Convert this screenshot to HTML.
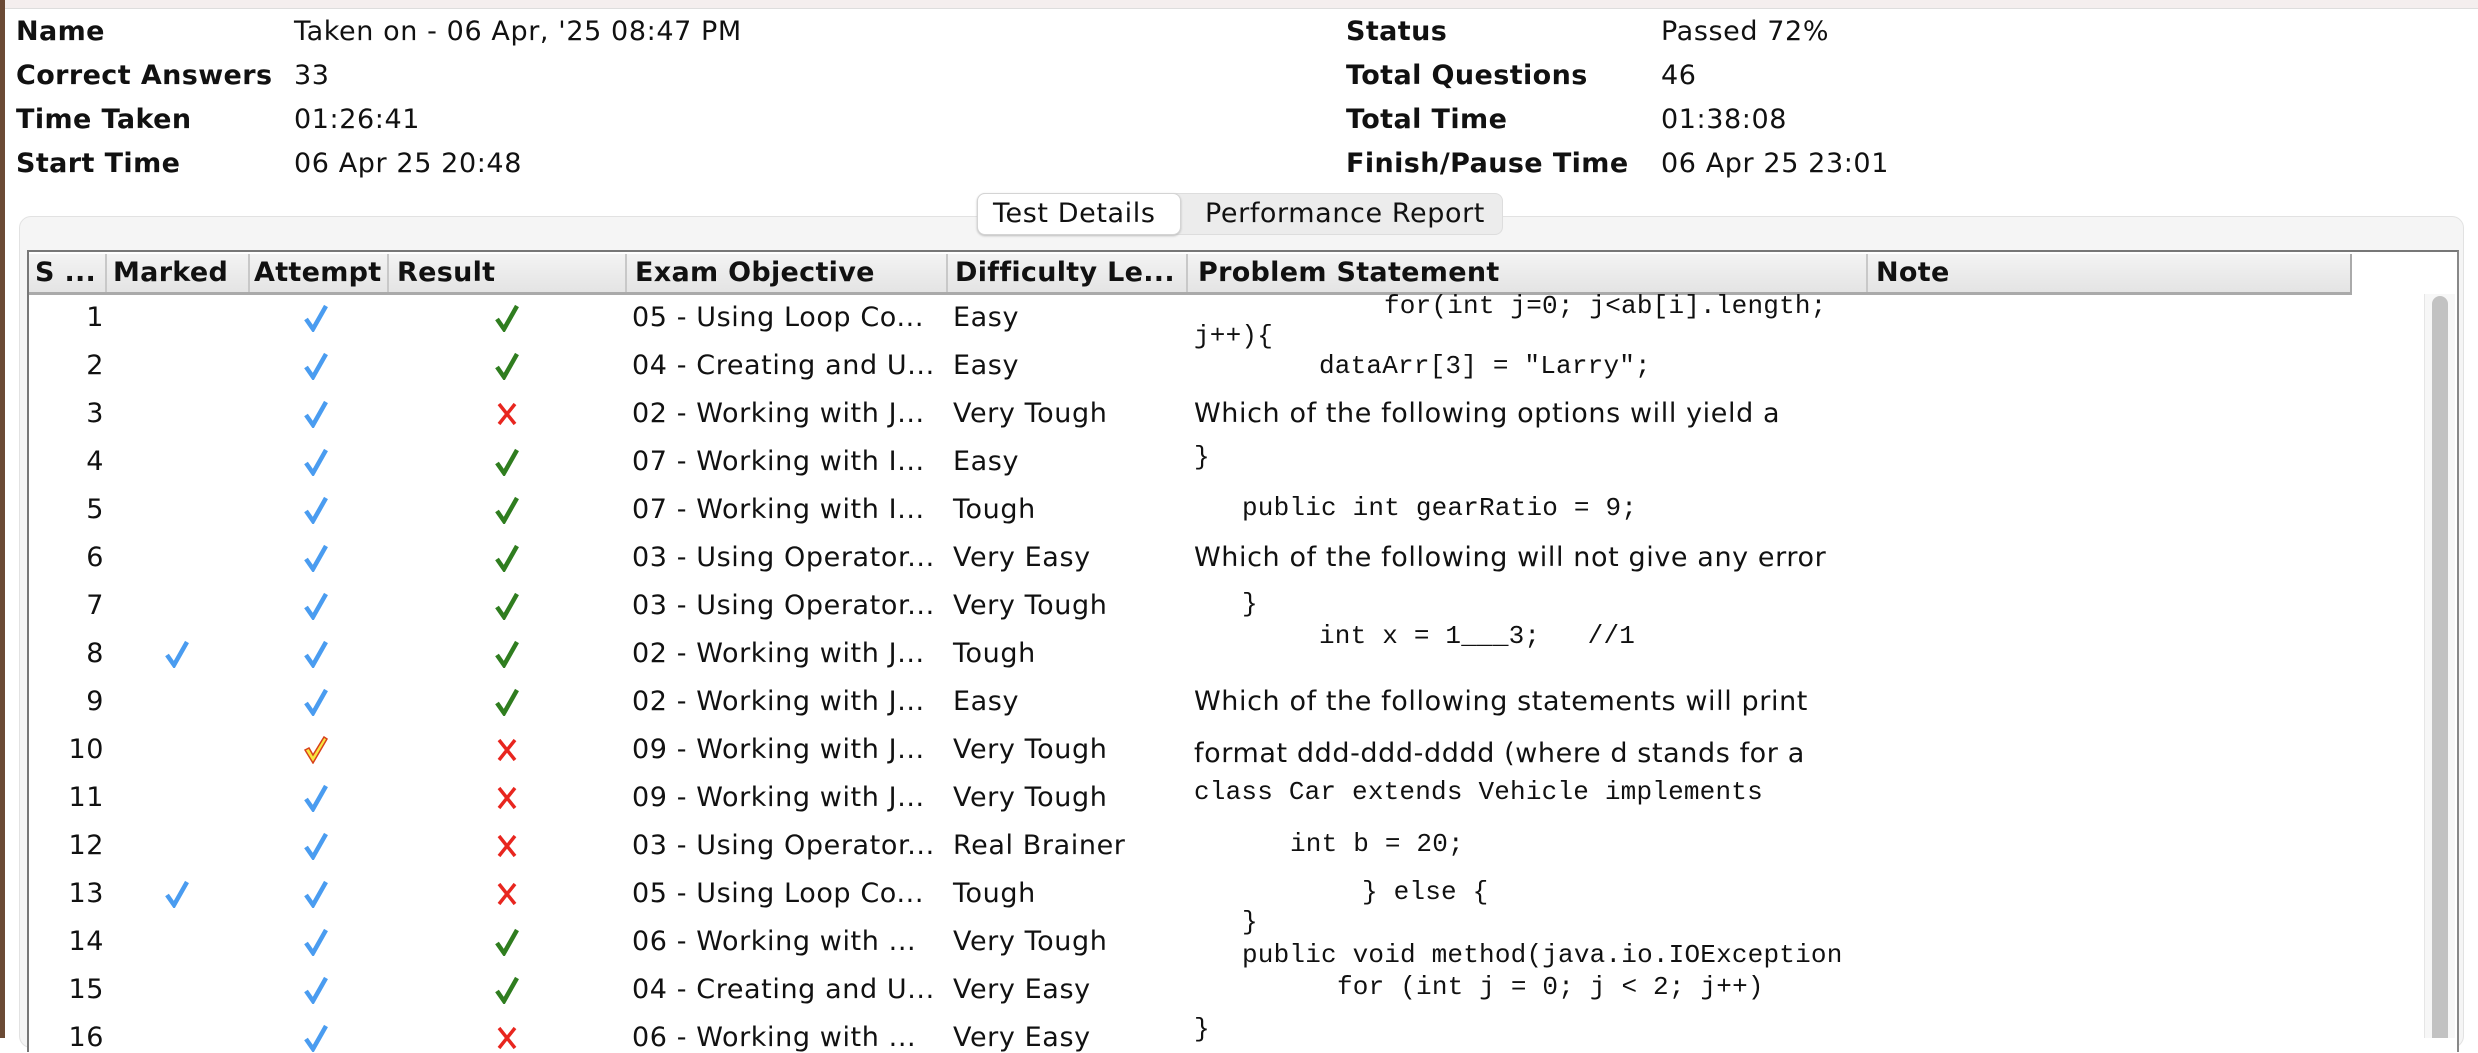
<!DOCTYPE html>
<html><head><meta charset="utf-8"><style>
body{margin:0;width:2478px;height:1038px;overflow:hidden;background:#fff;position:relative;font-family:"DejaVu Sans","Liberation Sans",sans-serif;font-size:27px;letter-spacing:0.6px;color:#111}
.a{position:absolute;white-space:pre;line-height:1}
.b{font-weight:bold;letter-spacing:0.4px}
.m{font-family:"Liberation Mono","DejaVu Sans Mono",monospace;font-size:26px;letter-spacing:0.2px}
.hc{position:absolute;top:254px;height:38px;border-right:2px solid #c8c8c8;box-sizing:border-box;font-weight:bold;font-size:27px;letter-spacing:0.3px;line-height:38px;padding-left:6px;white-space:nowrap;overflow:hidden}
svg{position:absolute}
</style></head><body>
<div style="position:absolute;left:0;top:0;width:2478px;height:8px;background:#f4eeee;border-bottom:1px solid #ddd"></div>
<div style="position:absolute;left:0;top:0;width:5px;height:1038px;background:#6b4a35"></div>

<div class="a b" style="left:16px;top:18px">Name</div>
<div class="a" style="left:294px;top:18px">Taken on - 06 Apr, '25 08:47 PM</div>
<div class="a b" style="left:16px;top:62px">Correct Answers</div>
<div class="a" style="left:294px;top:62px">33</div>
<div class="a b" style="left:16px;top:106px">Time Taken</div>
<div class="a" style="left:294px;top:106px">01:26:41</div>
<div class="a b" style="left:16px;top:150px">Start Time</div>
<div class="a" style="left:294px;top:150px">06 Apr 25 20:48</div>
<div class="a b" style="left:1346px;top:18px">Status</div>
<div class="a" style="left:1661px;top:18px">Passed 72%</div>
<div class="a b" style="left:1346px;top:62px">Total Questions</div>
<div class="a" style="left:1661px;top:62px">46</div>
<div class="a b" style="left:1346px;top:106px">Total Time</div>
<div class="a" style="left:1661px;top:106px">01:38:08</div>
<div class="a b" style="left:1346px;top:150px">Finish/Pause Time</div>
<div class="a" style="left:1661px;top:150px">06 Apr 25 23:01</div>

<div style="position:absolute;left:19px;top:216px;width:2443px;height:830px;background:#f5f5f5;border:1px solid #e2e2e2;border-radius:12px"></div>
<div style="position:absolute;left:977px;top:193px;width:524px;height:40px;background:#ececec;border:1px solid #ddd;border-radius:8px"></div>
<div style="position:absolute;left:977px;top:193px;width:202px;height:40px;background:#fff;border:1px solid #d4d4d4;border-radius:8px;box-shadow:0 1px 2px #bbb"></div>
<div class="a" style="left:993px;top:200px">Test Details</div>
<div class="a" style="left:1205px;top:200px">Performance Report</div>

<div style="position:absolute;left:27px;top:250px;width:2428px;height:800px;background:#fff;border:2px solid #777;border-bottom:none;border-right-color:#888"></div>
<div style="position:absolute;left:29px;top:254px;width:2321px;height:38px;background:linear-gradient(#f3f3f3,#e4e4e4);border-bottom:3px solid #aaa;border-right:2px solid #aaa;box-sizing:content-box"></div>
<div class="hc" style="left:29px;width:78px">S ...</div>
<div class="hc" style="left:107px;width:143px">Marked</div>
<div class="hc" style="left:250px;width:139px;padding-left:4px">Attempt</div>
<div class="hc" style="left:389px;width:238px;padding-left:8px">Result</div>
<div class="hc" style="left:627px;width:321px;padding-left:8px">Exam Objective</div>
<div class="hc" style="left:948px;width:240px;padding-left:7px">Difficulty Le...</div>
<div class="hc" style="left:1188px;width:680px;padding-left:10px">Problem Statement</div>
<div class="hc" style="left:1868px;width:482px;padding-left:8px;border-right:none">Note</div>

<div style="position:absolute;left:2424px;top:294px;width:30px;height:744px;background:#f7f7f7;border-left:1px solid #e6e6e6"></div>
<div style="position:absolute;left:2432px;top:296px;width:16px;height:742px;background:#c2c2c2;border-radius:8px 8px 0 0"></div>

<div id="rows"></div>
<script>
var R=[["1",0,"g","05 - Using Loop Co...","Easy"],["2",0,"g","04 - Creating and U...","Easy"],["3",0,"x","02 - Working with J...","Very Tough"],["4",0,"g","07 - Working with I...","Easy"],["5",0,"g","07 - Working with I...","Tough"],["6",0,"g","03 - Using Operator...","Very Easy"],["7",0,"g","03 - Using Operator...","Very Tough"],["8",1,"g","02 - Working with J...","Tough"],["9",0,"g","02 - Working with J...","Easy"],["10",0,"x","09 - Working with J...","Very Tough",1],["11",0,"x","09 - Working with J...","Very Tough"],["12",0,"x","03 - Using Operator...","Real Brainer"],["13",1,"x","05 - Using Loop Co...","Tough"],["14",0,"g","06 - Working with ...","Very Tough"],["15",0,"g","04 - Creating and U...","Very Easy"],["16",0,"x","06 - Working with ...","Very Easy"]];
var h="";
function chk(x,y,c){return '<svg style="left:'+(x-12)+'px;top:'+(y-14)+'px" width="24" height="28" viewBox="0 0 24 28"><path d="M2 15 L9 25 L22 2" fill="none" stroke="'+c+'" stroke-width="4.5"/></svg>';}
function ychk(x,y){return '<svg style="left:'+(x-12)+'px;top:'+(y-14)+'px" width="24" height="28" viewBox="0 0 24 28"><path d="M1 14 L5 12 L9 19 L20 1 L23 3 L9 27 Z" fill="#f7e640" stroke="#d8401a" stroke-width="1.5"/></svg>';}
for(var i=0;i<R.length;i++){var r=R[i],c=318+48*i;
h+='<div class="a" style="right:'+(2478-104)+'px;top:'+(c-14)+'px">'+r[0]+'</div>';
if(r[1])h+=chk(177,c,"#4a9cf0");
h+=r[5]?ychk(316,c):chk(316,c,"#4a9cf0");
if(r[2]=="g")h+=chk(507,c,"#2f7d1f");else h+='<svg style="left:496px;top:'+(c-12)+'px" width="22" height="24"><path d="M3 2 L19 22 M19 2 L3 22" stroke="#e8261f" stroke-width="3.5"/></svg>';
h+='<div class="a" style="left:632px;top:'+(c-14)+'px">'+r[3]+'</div>';
h+='<div class="a" style="left:953px;top:'+(c-14)+'px">'+r[4]+'</div>';}
var P=[[1384,307,"for(int j=0; j&lt;ab[i].length;",1],[1194,337,"j++){",1],[1319,367,"dataArr[3] = \"Larry\";",1],[1194,414,"Which of the following options will yield a",0],[1194,458,"}",1],[1242,509,"public int gearRatio = 9;",1],[1194,558,"Which of the following will not give any error",0],[1242,605,"}",1],[1319,637,"int x = 1___3;   //1",1],[1194,702,"Which of the following statements will print",0],[1194,754,"format ddd-ddd-dddd (where d stands for a",0],[1194,793,"class Car extends Vehicle implements",1],[1290,845,"int b = 20;",1],[1362,893,"} else {",1],[1242,923,"}",1],[1242,956,"public void method(java.io.IOException",1],[1337,988,"for (int j = 0; j &lt; 2; j++)",1],[1194,1030,"}",1]];
for(var k=0;k<P.length;k++){var p=P[k];h+='<div class="a'+(p[3]?' m':'')+'" style="left:'+p[0]+'px;top:'+(p[1]-14)+'px">'+p[2]+'</div>';}
document.getElementById("rows").innerHTML=h;
</script>
</body></html>
